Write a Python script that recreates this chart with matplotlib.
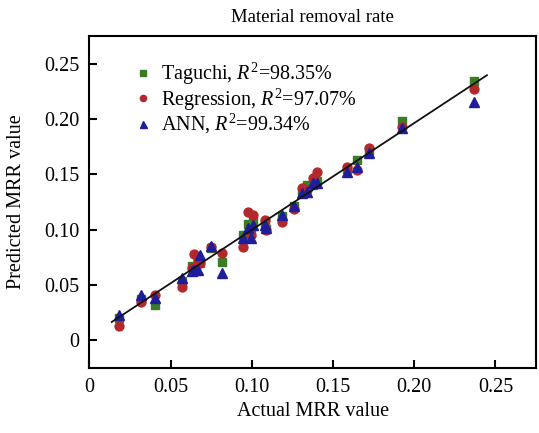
import matplotlib
matplotlib.use("Agg")
import matplotlib.pyplot as plt

plt.rcParams['font.family'] = ['Liberation Serif', 'DejaVu Serif']
plt.rcParams['mathtext.fontset'] = 'custom'
plt.rcParams['mathtext.rm'] = 'Liberation Serif'
plt.rcParams['mathtext.it'] = 'Liberation Serif:italic'

# Actual MRR values and the predictions from each model
actual = [0.0184, 0.0319, 0.0405, 0.0571, 0.0631, 0.0646, 0.0680, 0.0672,
          0.0750, 0.0816, 0.0949, 0.0980, 0.1010, 0.0995, 0.1080, 0.1085,
          0.1185, 0.1260, 0.1310, 0.1340, 0.1380, 0.1400, 0.1586, 0.1650,
          0.1720, 0.1925, 0.2366]
taguchi = [0.0200, 0.0370, 0.0322, 0.0540, 0.0676, 0.0660, 0.0700, 0.0720,
           0.0830, 0.0712, 0.0953, 0.1051, 0.1080, 0.0970, 0.1060, 0.1010,
           0.1120, 0.1210, 0.1330, 0.1403, 0.1400, 0.1440, 0.1550, 0.1629,
           0.1720, 0.1980, 0.2343]
regression = [0.0126, 0.0346, 0.0412, 0.0478, 0.0650, 0.0779, 0.0698, 0.0730,
              0.0840, 0.0788, 0.0847, 0.1163, 0.1133, 0.0950, 0.1088, 0.0997,
              0.1067, 0.1187, 0.1373, 0.1360, 0.1464, 0.1523, 0.1568, 0.1538,
              0.1734, 0.1925, 0.2275]
ann = [0.0232, 0.0412, 0.0385, 0.0562, 0.0624, 0.0640, 0.0771, 0.0637,
       0.0856, 0.0607, 0.0923, 0.1013, 0.1043, 0.0923, 0.1040, 0.1013,
       0.1133, 0.1214, 0.1328, 0.1343, 0.1420, 0.1418, 0.1523, 0.1568,
       0.1689, 0.1914, 0.2154]

# Reference trend line end points
fit_x = [0.0138, 0.2448]
fit_y = [0.0166, 0.2395]

labels = [r'Taguchi, $\mathit{R}^{2}$=98.35%',
          r'Regression, $\mathit{R}^{2}$=97.07%',
          r'ANN, $\mathit{R}^{2}$=99.34%']

xticks = [0, 0.05, 0.10, 0.15, 0.20, 0.25]
xticklabels = ['0', '0.05', '0.10', '0.15', '0.20', '0.25']
yticks = [0, 0.05, 0.10, 0.15, 0.20, 0.25]
yticklabels = ['0', '0.05', '0.10', '0.15', '0.20', '0.25']

fig = plt.figure(figsize=(5.39, 4.33), dpi=100)
ax = fig.add_axes([0.1657, 0.150, 0.8287, 0.767])

green = '#3b7d26'
red = '#b3282b'
blue = '#1e1e9c'

ax.plot(actual, taguchi, linestyle='none', marker='s', ms=5.2,
        color=green, label=labels[0], zorder=3)
ax.plot(actual, regression, linestyle='none', marker='o', ms=6.4,
        color=red, label=labels[1], zorder=4)
ax.plot(actual, ann, linestyle='none', marker='^', ms=7.2,
        color=blue, label=labels[2], zorder=5)
ax.plot(fit_x, fit_y, color='#111111', lw=1.3, zorder=6)

ax.set_xlim(0, 0.275)
ax.set_ylim(-0.025, 0.275)
ax.set_xticks(xticks)
ax.set_xticklabels(xticklabels)
ax.set_yticks(yticks)
ax.set_yticklabels(yticklabels)

for side in ['left', 'bottom', 'right', 'top']:
    ax.spines[side].set_linewidth(1.5)
ax.tick_params(direction='in', length=5.5, width=1.5, labelsize=14.5,
               top=False, right=False, pad=7)

ax.set_xlabel('Actual MRR value', fontsize=14.5, labelpad=4)
ax.set_ylabel('Predicted MRR value', fontsize=14.5, labelpad=13)
ax.set_title('Material removal rate', fontsize=13.5, pad=10)

leg = ax.legend(loc='upper left', bbox_to_anchor=(0.085, 0.95), frameon=False,
                fontsize=14.5, markerscale=0.7, handlelength=0.8,
                handletextpad=0.45, labelspacing=-0.02, borderaxespad=0)

fig.savefig('out.png', dpi=100)
